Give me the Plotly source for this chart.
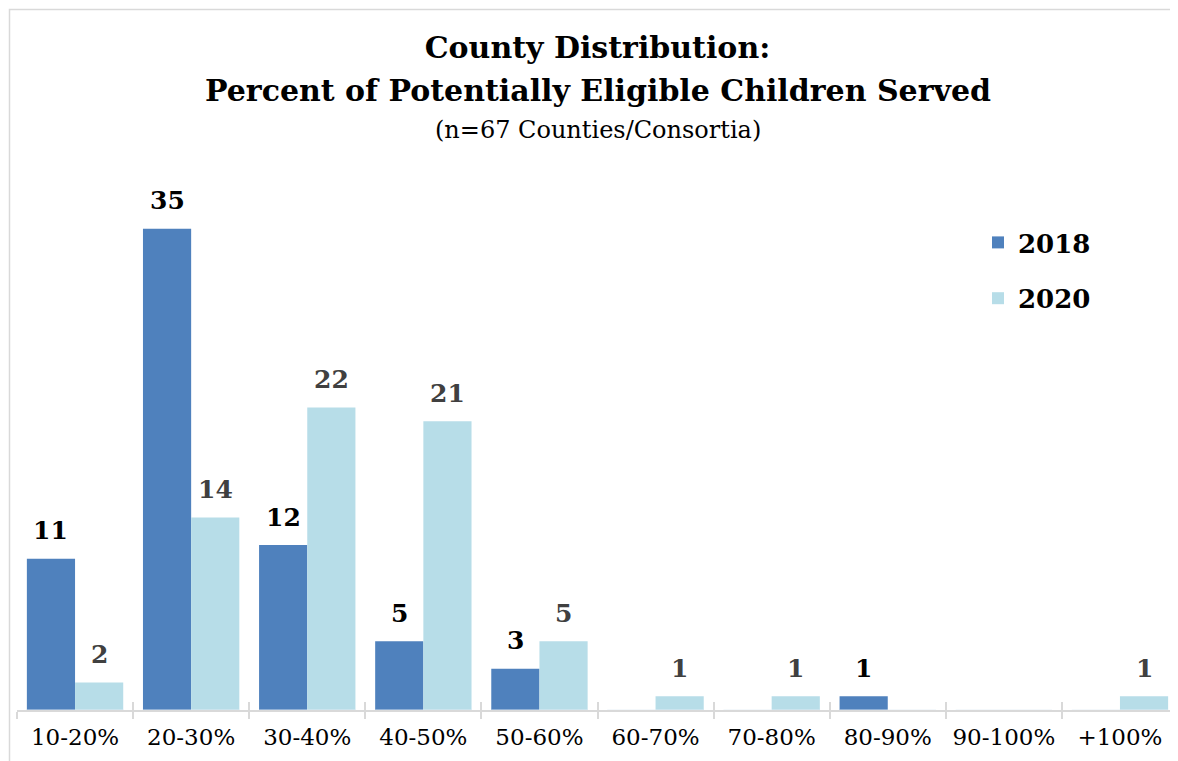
import plotly.graph_objects as go

categories = ["10-20%", "20-30%", "30-40%", "40-50%", "50-60%",
              "60-70%", "70-80%", "80-90%", "90-100%", "+100%"]
values_2018 = [11, 35, 12, 5, 3, 0, 0, 1, 0, 0]
values_2020 = [2, 14, 22, 21, 5, 1, 1, 0, 0, 1]

title_line1 = "County Distribution:"
title_line2 = "Percent of Potentially Eligible Children Served"
subtitle = "(n=67 Counties/Consortia)"

# page has an 8px body margin; figure is sized to fill the rest of the window
PAGE_OFF = 8
W, H = 1178 - PAGE_OFF, 761 - PAGE_OFF
PLOT_L, PLOT_R, PLOT_T, PLOT_B = 17, 1178, 160, 710  # window pixels
ML, MR = PLOT_L - PAGE_OFF, 0
MT, MB = PLOT_T - PAGE_OFF, 761 - PLOT_B
plot_w = PLOT_R - PLOT_L
plot_h = PLOT_B - PLOT_T

def px_to_paper_x(px):
    return (px - PLOT_L) / plot_w

def px_to_paper_y(py):
    return (PLOT_B - py) / plot_h

SERIF = "DejaVu Serif"
BARGAP = 0.17
group_offset = (1 - BARGAP) / 4

fig = go.Figure()
fig.add_trace(go.Bar(
    name="2018", x=categories, y=values_2018,
    marker=dict(color="#4F81BD", line=dict(width=0)),
    legendgroup="a",
))
fig.add_trace(go.Bar(
    name="2020", x=categories, y=values_2020,
    marker=dict(color="#B7DDE8", line=dict(width=0)),
    legendgroup="b",
))
# invisible helper trace for the upper half of the crossing tick marks
fig.add_trace(go.Bar(
    x=categories, y=[0] * len(categories), xaxis="x2", yaxis="y",
    showlegend=False, hoverinfo="skip", marker=dict(color="rgba(0,0,0,0)"),
))

annotations = [
    dict(text="<b>" + title_line2 + "</b>", xref="paper", yref="paper",
         x=0.5, y=px_to_paper_y(90), xanchor="center", yanchor="middle",
         showarrow=False, font=dict(family=SERIF, size=30, color="#000000")),
    dict(text=subtitle, xref="paper", yref="paper",
         x=0.5, y=px_to_paper_y(130), xanchor="center", yanchor="middle",
         showarrow=False, font=dict(family=SERIF, size=24, color="#000000")),
]
for vals, sign, color in ((values_2018, -1, "#000000"), (values_2020, 1, "#404040")):
    for i, v in enumerate(vals):
        if v:
            annotations.append(dict(
                text="<b>%d</b>" % v, x=i + sign * group_offset, y=v,
                xref="x", yref="y", xanchor="center", yanchor="middle",
                yshift=28, showarrow=False,
                font=dict(family=SERIF, size=25, color=color),
            ))

fig.update_layout(
    width=W, height=H,
    margin=dict(l=ML, r=MR, t=MT, b=MB),
    paper_bgcolor="white", plot_bgcolor="white",
    barmode="group", bargap=BARGAP, bargroupgap=0,
    title=dict(
        text="<b>" + title_line1 + "</b>",
        font=dict(family=SERIF, size=30, color="#000000"),
        x=0.5, xanchor="center", xref="paper",
        y=1 - (47 - PAGE_OFF) / H, yanchor="middle", yref="container",
    ),
    xaxis=dict(
        type="category", categoryorder="array", categoryarray=categories,
        range=[-0.5, len(categories) - 0.5],
        showline=True, linecolor="#D9D9D9", linewidth=2,
        ticks="outside", tickson="boundaries", ticklen=7, tickwidth=2,
        tickcolor="#D9D9D9", showgrid=False, zeroline=False,
        tickfont=dict(family=SERIF, size=23, color="#000000"),
        ticklabelstandoff=5,
    ),
    xaxis2=dict(
        type="category", categoryorder="array", categoryarray=categories,
        overlaying="x", matches="x", showline=False,
        ticks="inside", tickson="boundaries", ticklen=8, tickwidth=2,
        tickcolor="#D9D9D9", showticklabels=False, showgrid=False,
        zeroline=False, anchor="y", side="bottom",
    ),
    yaxis=dict(range=[0, 40], visible=False, showgrid=False, zeroline=False),
    legend=dict(
        x=px_to_paper_x(978), y=px_to_paper_y(219), xanchor="left", yanchor="top",
        font=dict(family=SERIF, size=26, color="#000000", weight="bold"),
        bgcolor="rgba(0,0,0,0)", tracegroupgap=19, traceorder="grouped",
        itemwidth=30,
    ),
    showlegend=True,
    annotations=annotations,
    shapes=[
        dict(type="rect", xref="paper", yref="paper",
             x0=px_to_paper_x(PAGE_OFF + 1.5), x1=px_to_paper_x(1200),
             y0=px_to_paper_y(800), y1=px_to_paper_y(PAGE_OFF + 1.5),
             line=dict(color="#D9D9D9", width=1.5), fillcolor="rgba(0,0,0,0)",
             layer="below"),
    ],
)

fig.write_html("out.html")
